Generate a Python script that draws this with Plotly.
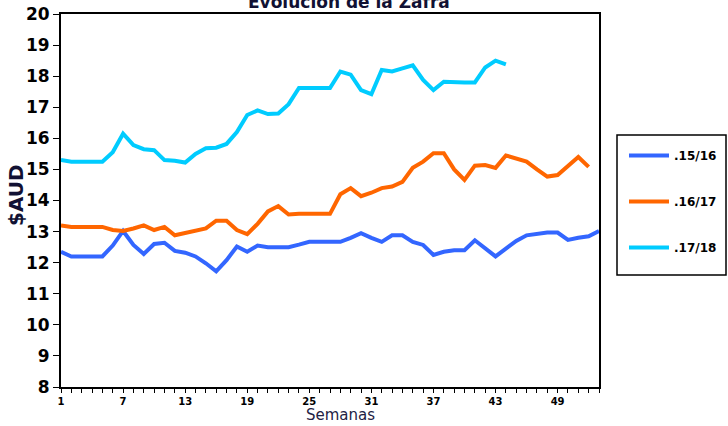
import plotly.graph_objects as go

weeks_1516 = list(range(1, 54))
vals_1516 = [12.35, 12.20, 12.20, 12.20, 12.20, 12.55, 13.02, 12.57, 12.28, 12.60,
             12.64, 12.38, 12.32, 12.20, 11.98, 11.72, 12.08, 12.52, 12.35, 12.55,
             12.50, 12.50, 12.50, 12.58, 12.67, 12.67, 12.67, 12.67, 12.80, 12.95,
             12.80, 12.67, 12.88, 12.88, 12.67, 12.57, 12.25, 12.35, 12.40, 12.40,
             12.72, 12.45, 12.20, 12.45, 12.70, 12.88, 12.93, 12.97, 12.97, 12.73,
             12.80, 12.85, 13.02]

weeks_1617 = list(range(1, 53))
vals_1617 = [13.20, 13.15, 13.15, 13.15, 13.15, 13.05, 13.02, 13.10, 13.20, 13.05,
             13.15, 12.88, 12.95, 13.02, 13.10, 13.35, 13.35, 13.05, 12.92, 13.25,
             13.65, 13.82, 13.55, 13.57, 13.57, 13.57, 13.57, 14.20, 14.40, 14.14,
             14.25, 14.40, 14.45, 14.60, 15.05, 15.25, 15.52, 15.52, 15.00, 14.66,
             15.12, 15.14, 15.05, 15.45, 15.36, 15.25, 15.00, 14.77, 14.82, 15.10,
             15.40, 15.08]

weeks_1718 = list(range(1, 45))
vals_1718 = [15.30, 15.25, 15.25, 15.25, 15.25, 15.55, 16.15, 15.78, 15.65, 15.62,
             15.30, 15.28, 15.22, 15.50, 15.68, 15.70, 15.82, 16.20, 16.75, 16.90,
             16.78, 16.80, 17.10, 17.62, 17.62, 17.62, 17.62, 18.15, 18.05, 17.55,
             17.42, 18.20, 18.15, 18.25, 18.35, 17.88, 17.55, 17.82, 17.80, 17.80,
             17.80, 18.28, 18.50, 18.38]

series_names = [".15/16", ".16/17", ".17/18"]
colors = ["#3366FF", "#FF6600", "#00CCFF"]
x_ticks = [1, 7, 13, 19, 25, 31, 37, 43, 49]
y_ticks = list(range(8, 21))

fig = go.Figure()
for name, xs, ys, c in zip(series_names, [weeks_1516, weeks_1617, weeks_1718],
                           [vals_1516, vals_1617, vals_1718], colors):
    fig.add_trace(go.Scatter(x=xs, y=ys, mode="lines", name=name, legendgroup=name,
                             line=dict(color=c, width=4)))

W, H = 728, 426
L, R, T, B = 61, 129, 14, 39
pw, ph = W - L - R, H - T - B

def px_x(px):
    return (px - L) / pw

def px_y(py):
    return (H - B - py) / ph

fig.update_layout(
    width=W, height=H,
    margin=dict(l=L, r=R, t=T, b=B, autoexpand=False),
    paper_bgcolor="white", plot_bgcolor="white",
    font=dict(family="DejaVu Sans", color="black"),
    showlegend=True,
    legend=dict(x=px_x(624), y=px_y(141), xanchor="left", yanchor="top",
                bgcolor="rgba(0,0,0,0)", borderwidth=0, tracegroupgap=27,
                font=dict(size=12, family="DejaVu Sans", color="black", weight="bold"),
                itemwidth=40),
    xaxis=dict(range=[1, 53], tickvals=x_ticks, ticktext=[f"<b>{v}</b>" for v in x_ticks],
               ticks="outside", ticklen=4, tickcolor="black", automargin=False,
               ticklabeloverflow="allow",
               minor=dict(dtick=1, tick0=1, ticks="outside", ticklen=4, tickcolor="black"),
               showline=True, linecolor="black", linewidth=2, mirror=True,
               showgrid=False, zeroline=False,
               tickfont=dict(size=10, family="DejaVu Sans", color="black")),
    yaxis=dict(range=[8, 20], tickvals=y_ticks, ticktext=[f"<b>{v}</b>" for v in y_ticks],
               ticks="outside", ticklen=6, tickcolor="black", automargin=False,
               ticklabeloverflow="allow",
               showline=True, linecolor="black", linewidth=2, mirror=True,
               showgrid=False, zeroline=False,
               tickfont=dict(size=17, family="DejaVu Sans", color="black")),
    shapes=[dict(type="rect", xref="paper", yref="paper",
                 x0=px_x(617), x1=px_x(726), y0=px_y(275), y1=px_y(135),
                 line=dict(color="black", width=1.5), fillcolor="rgba(0,0,0,0)")],
    annotations=[
        dict(text="<b>$AUD</b>", textangle=-90, xref="paper", yref="paper",
             x=px_x(16), y=px_y(195), xanchor="center", yanchor="middle",
             showarrow=False, font=dict(size=20, family="DejaVu Sans", color="#111133")),
        dict(text="<b>Evolución de la Zafra</b>", xref="paper", yref="paper",
             x=px_x(349), y=px_y(2), xanchor="center", yanchor="middle",
             showarrow=False, font=dict(size=17, family="DejaVu Sans", color="#111133")),
        dict(text="Semanas", xref="paper", yref="paper",
             x=px_x(340), y=px_y(415), xanchor="center", yanchor="middle",
             showarrow=False, font=dict(size=15, family="DejaVu Sans", color="#222244")),
    ],
)

fig.write_html("out.html", config={"displayModeBar": False},
               post_script="document.body.style.margin='0';")
